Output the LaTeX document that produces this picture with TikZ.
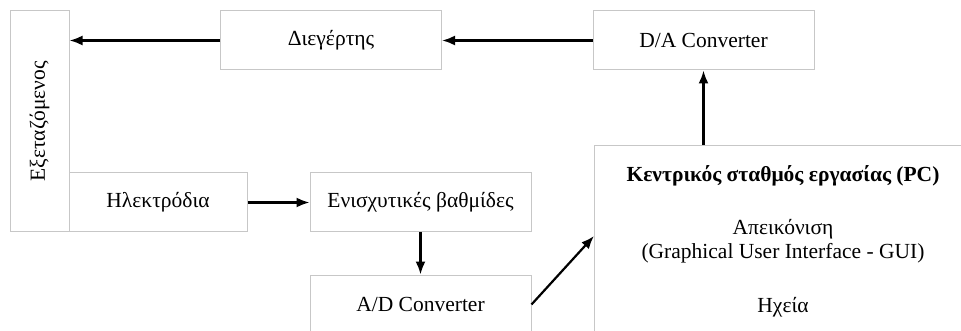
\documentclass[tikz,border=0pt]{standalone}
\usepackage{fontspec}
\setmainfont{Liberation Serif}
\usetikzlibrary{arrows.meta}

\begin{document}
\begin{tikzpicture}[x=1pt,y=-1pt]
	\tikzstyle{block}=[draw=black!22, line width=1pt, minimum width=221pt, minimum height=59pt, inner sep=0pt, font=\fontsize{21.5}{24}\selectfont]
	\tikzstyle{label}=[inner sep=0pt, font=\fontsize{21.5}{24}\selectfont]
	\tikzstyle{signal}=[-{Latex[length=13pt,width=10pt]}, line width=2.2pt]
	\useasboundingbox (0,0) rectangle (961,331);
	\clip (0,0) rectangle (961,331);
	% blocks
	\node (subject) [block, minimum width=59pt, minimum height=221pt] at (39.5,121.5) {\rotatebox{90}{Εξεταζόμενος}};
	\node (shaker) [block] at (331,40.5) {Διεγέρτης};
	\node (dac) [block] at (703.5,40.5) {D/A Converter};
	\node (electrodes) [block, minimum width=178pt] at (158,202.5) {Ηλεκτρόδια};
	\node (amps) [block] at (420.5,202.5) {Ενισχυτικές βαθμίδες};
	\node (adc) [block] at (420.5,304.5) {A/D Converter};
	\node (pc) [block, minimum width=378pt, minimum height=240pt, anchor=north west] at (594,145) {};
	% what the PC holds
	\node (title) [label] at (783,176) {\textbf{Κεντρικός σταθμός εργασίας (PC)}};
	\node (gui) [label, align=center] at (783,241.5) {Απεικόνιση\\(Graphical User Interface - GUI)};
	\node (speakers) [label] at (783,307) {Ηχεία};
	% signal path
	\draw[signal] (dac) -- (shaker);
	\draw[signal] (shaker) -- (subject.east |- shaker);
	\draw[signal] (pc.north -| dac) -- (dac);
	\draw[signal] (electrodes) -- (amps);
	\draw[signal] (amps) -- (adc);
	\draw[signal] (adc.east) -- ([yshift=-91pt]pc.north west);
\end{tikzpicture}
\end{document}
